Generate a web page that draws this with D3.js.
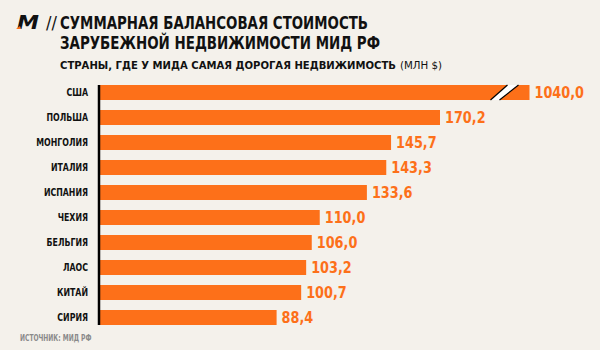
<!DOCTYPE html>
<html>
<head>
<meta charset="utf-8">
<script src="https://cdn.jsdelivr.net/npm/d3@7"></script>
<style>
  body { margin: 0; background: #f4f1eb; }
  svg { display: block; }
</style>
</head>
<body>
<div id="chart"></div>
<script>
var countries = ["США", "ПОЛЬША", "МОНГОЛИЯ", "ИТАЛИЯ", "ИСПАНИЯ", "ЧЕХИЯ", "БЕЛЬГИЯ", "ЛАОС", "КИТАЙ", "СИРИЯ"];
var values = [1040.0, 170.2, 145.7, 143.3, 133.6, 110.0, 106.0, 103.2, 100.7, 88.4];
var valueLabels = ["1040,0", "170,2", "145,7", "143,3", "133,6", "110,0", "106,0", "103,2", "100,7", "88,4"];
var brokenCap = 215; // the USA bar is cut off here

var width = 600, height = 350;
var orange = "#fd7019";
var font = "'Liberation Sans Narrow','DejaVu Sans Condensed','Roboto',sans-serif";

var svg = d3.select("#chart")
    .append("svg")
    .attr("width", width)
    .attr("height", height)
    .style("background", "#f4f1eb");

// squeeze text horizontally to look like the narrow original font
function narrow(sel, k) {
    sel.each(function () {
        var w = this.getComputedTextLength();
        d3.select(this)
            .attr("textLength", w * k)
            .attr("lengthAdjust", "spacingAndGlyphs");
    });
}

// x scale: 2px per million
var x = d3.scaleLinear()
    .domain([0, 170.2])
    .range([100, 440]);

var y = d3.scaleBand()
    .domain(countries)
    .range([80, 330])
    .paddingInner(0.4)
    .paddingOuter(0.2);

function shown(v) { return Math.min(v, brokenCap); }

// bars
svg.append("g")
    .selectAll("rect")
    .data(values)
    .enter()
    .append("rect")
    .attr("x", x(0))
    .attr("y", function (d, i) { return y(countries[i]); })
    .attr("width", function (d) { return x(shown(d)) - x(0); })
    .attr("height", y.bandwidth())
    .attr("fill", orange);

// break mark on capped bar
values.forEach(function (d, i) {
    if (d <= brokenCap) return;
    var end = x(brokenCap);
    var top = y(countries[i]), bot = top + y.bandwidth();
    var g = svg.append("g");
    g.append("polygon")
        .attr("points", [[end - 39, bot], [end - 22, top], [end - 11, top], [end - 30, bot]].join(" "))
        .attr("fill", "#ffffff");
    g.append("line")
        .attr("x1", end - 39).attr("y1", bot).attr("x2", end - 22).attr("y2", top)
        .attr("stroke", "#000").attr("stroke-width", 1.2);
    g.append("line")
        .attr("x1", end - 30).attr("y1", bot).attr("x2", end - 11).attr("y2", top)
        .attr("stroke", "#000").attr("stroke-width", 1.2);
});

// value labels
svg.append("g")
    .selectAll("text")
    .data(values)
    .enter()
    .append("text")
    .attr("x", function (d) { return x(shown(d)) + 5; })
    .attr("y", function (d, i) { return y(countries[i]) + y.bandwidth() / 2; })
    .attr("dy", "0.35em")
    .style("font-family", font)
    .style("font-size", "15.5px")
    .style("font-weight", "bold")
    .attr("fill", orange)
    .text(function (d, i) { return valueLabels[i]; })
    .call(narrow, 0.92);

// y axis
var yAxis = svg.append("g")
    .attr("transform", "translate(99,0)")
    .call(d3.axisLeft(y).tickSize(0).tickPadding(11));
yAxis.select(".domain")
    .attr("d", "M0," + (y.range()[0] + 5) + "V" + (y.range()[1] - 5))
    .attr("stroke", "#000")
    .attr("stroke-width", 2.5);
yAxis.selectAll("text")
    .style("font-family", font)
    .style("font-size", "10.5px")
    .style("font-weight", "bold")
    .attr("fill", "#111")
    .call(narrow, 0.83);

// logo
svg.append("text")
    .attr("x", 17).attr("y", 29)
    .style("font-family", font)
    .style("font-size", "19px")
    .style("font-weight", "bold")
    .style("font-style", "italic")
    .attr("fill", "#111")
    .attr("textLength", 22)
    .attr("lengthAdjust", "spacingAndGlyphs")
    .text("M");
svg.append("polygon")
    .attr("points", "16,29 20,26 21,29")
    .attr("fill", orange);
svg.append("text")
    .attr("x", 46).attr("y", 29)
    .style("font-family", font)
    .style("font-size", "18px")
    .attr("fill", "#111")
    .text("//");

// titles
svg.append("text")
    .attr("x", 60).attr("y", 29)
    .style("font-family", font)
    .style("font-size", "18px")
    .style("font-weight", "bold")
    .attr("fill", "#111")
    .attr("textLength", 308)
    .attr("lengthAdjust", "spacingAndGlyphs")
    .text("СУММАРНАЯ БАЛАНСОВАЯ СТОИМОСТЬ");
svg.append("text")
    .attr("x", 60).attr("y", 49)
    .style("font-family", font)
    .style("font-size", "18px")
    .style("font-weight", "bold")
    .attr("fill", "#111")
    .attr("textLength", 320)
    .attr("lengthAdjust", "spacingAndGlyphs")
    .text("ЗАРУБЕЖНОЙ НЕДВИЖИМОСТИ МИД РФ");
svg.append("text")
    .attr("x", 60).attr("y", 68.5)
    .style("font-family", font)
    .style("font-size", "11px")
    .style("font-weight", "bold")
    .attr("fill", "#111")
    .attr("textLength", 336)
    .attr("lengthAdjust", "spacingAndGlyphs")
    .text("СТРАНЫ, ГДЕ У МИДА САМАЯ ДОРОГАЯ НЕДВИЖИМОСТЬ");
svg.append("text")
    .attr("x", 400).attr("y", 68.5)
    .style("font-family", font)
    .style("font-size", "11px")
    .attr("fill", "#111")
    .attr("textLength", 42)
    .attr("lengthAdjust", "spacingAndGlyphs")
    .text("(МЛН $)");

// source
svg.append("text")
    .attr("x", 20).attr("y", 341)
    .style("font-family", font)
    .style("font-size", "8px")
    .style("font-weight", "bold")
    .attr("fill", "#8a8a8a")
    .text("ИСТОЧНИК: МИД РФ")
    .call(narrow, 0.83);
</script>
</body>
</html>
